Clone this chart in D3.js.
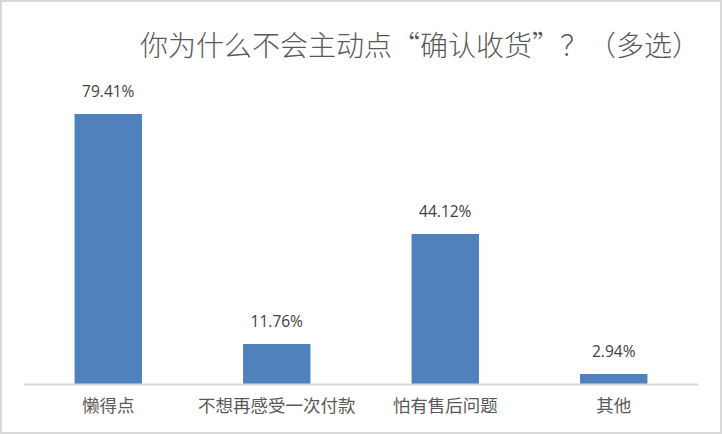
<!DOCTYPE html>
<html>
<head>
<meta charset="utf-8">
<script src="https://cdn.jsdelivr.net/npm/d3@7/dist/d3.min.js"></script>
<style>
  html, body { margin: 0; padding: 0; background: #ffffff; }
  svg { display: block; }
</style>
</head>
<body>
<div id="chart"></div>
<script>
var categories = ["懒得点", "不想再感受一次付款", "怕有售后问题", "其他"];
var values = [79.41, 11.76, 44.12, 2.94];
var valueLabels = ["79.41%", "11.76%", "44.12%", "2.94%"];
var title = "你为什么不会主动点“确认收货”？（多选）";

var w = 722, h = 434;
var cjk = "'Noto Sans CJK SC', 'Noto Sans', sans-serif";

var svg = d3.select("#chart").append("svg")
  .attr("width", w)
  .attr("height", h);

// chart area border
svg.append("rect")
  .attr("x", 1).attr("y", 1)
  .attr("width", w - 2).attr("height", h - 2)
  .attr("fill", "#ffffff")
  .attr("stroke", "#d9d9d9")
  .attr("stroke-width", 2);

svg.append("text")
  .attr("x", 700)
  .attr("y", 56)
  .attr("text-anchor", "end")
  .attr("fill", "#595959")
  .style("font-family", cjk)
  .style("font-size", "28px")
  .style("font-weight", 300)
  .text(title);

var x = d3.scaleBand()
  .domain(categories)
  .range([24, 698])
  .padding(0);

var y = d3.scaleLinear()
  .domain([0, 90])
  .range([384, 78]);

var barW = x.bandwidth() * 0.4;

svg.append("g")
  .selectAll("rect")
  .data(values)
  .enter().append("rect")
  .attr("x", function(d, i) { return x(categories[i]) + (x.bandwidth() - barW) / 2; })
  .attr("y", function(d) { return y(d); })
  .attr("width", barW)
  .attr("height", function(d) { return y(0) - y(d); })
  .attr("fill", "#4f81bd");

// baseline
svg.append("line")
  .attr("x1", x.range()[0]).attr("x2", x.range()[1])
  .attr("y1", y(0) + 0.5).attr("y2", y(0) + 0.5)
  .attr("stroke", "#d9d9d9")
  .attr("stroke-width", 2);

// value labels
svg.append("g")
  .selectAll("text")
  .data(values)
  .enter().append("text")
  .attr("x", function(d, i) { return x(categories[i]) + x.bandwidth() / 2; })
  .attr("y", function(d) { return y(d) - 17; })
  .attr("text-anchor", "middle")
  .attr("fill", "#404040")
  .style("font-family", "'Open Sans', 'Liberation Sans', sans-serif")
  .style("font-size", "15.5px")
  .text(function(d, i) { return valueLabels[i]; });

// category labels
svg.append("g")
  .selectAll("text")
  .data(categories)
  .enter().append("text")
  .attr("x", function(d) { return x(d) + x.bandwidth() / 2; })
  .attr("y", 412)
  .attr("text-anchor", "middle")
  .attr("fill", "#595959")
  .style("font-family", cjk)
  .style("font-size", "17.5px")
  .text(function(d) { return d; });
</script>
</body>
</html>
